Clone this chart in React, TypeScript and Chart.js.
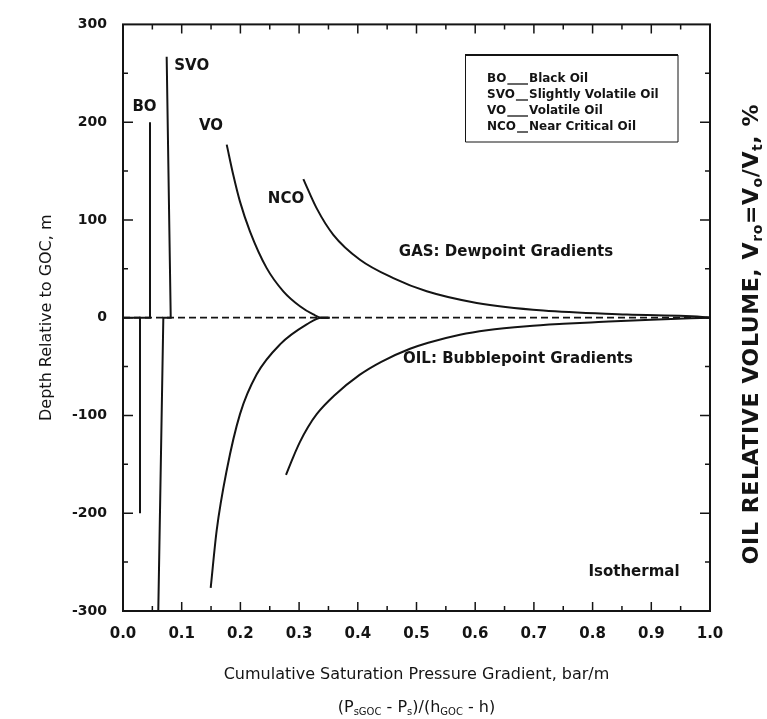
import { useEffect, useRef } from "react";
import { Chart, registerables } from "chart.js";

Chart.register(...registerables);

const INK = "#141414";
const FONT = "'DejaVu Sans', 'Liberation Sans', sans-serif";

// Axis ranges and tick labels
const xMin = 0;
const xMax = 1;
const xStep = 0.1;
const yMin = -300;
const yMax = 300;
const yStep = 100;

// Black oil: GOC step and the two vertical gradients
const boX = [0.046, 0.046, 0.029, 0.029];
const boY = [200, 0, 0, -200];
const boLeadX = [0, 0.029];
const boLeadY = [0, 0];

// Slightly volatile oil
const svoX = [0.0744, 0.0813, 0.0687, 0.0601];
const svoY = [267, 0, 0, -300];

// Volatile oil: dewpoint (gas) and bubblepoint (oil) branches
const voGasX = [0.1767, 0.1879, 0.1993, 0.2164, 0.2448, 0.2731, 0.3015, 0.3242, 0.338, 0.352];
const voGasY = [177, 145.9, 118.7, 88.1, 50.7, 27, 11.7, 3.3, 0, 0];
const voOilX = [0.1494, 0.1596, 0.1767, 0.1993, 0.2278, 0.2675, 0.313, 0.338, 0.352];
const voOilY = [-276.3, -217.5, -156, -98.6, -57.9, -27.3, -6.9, 0, 0];

// Near critical oil
const ncoGasX = [0.3072, 0.33, 0.3583, 0.4037, 0.4605, 0.5174, 0.6026, 0.716, 0.8581, 0.9944, 1.0];
const ncoGasY = [141.8, 111.8, 84.8, 59.3, 40.5, 27, 15.1, 7.3, 3.3, 0.5, 0];
const ncoOilX = [0.2777, 0.29, 0.3015, 0.315, 0.33, 0.36, 0.403, 0.44, 0.489, 0.52, 0.574, 0.62, 0.688, 0.75, 0.81, 0.9, 1.0];
const ncoOilY = [-160.7, -142.5, -127, -112, -98.6, -79.6, -58.5, -45.1, -31.8, -25.6, -17.4, -12.8, -8.7, -6.3, -4.5, -2, 0];

// GOC reference line
const gocX = [0, 1];
const gocY = [0, 0];

// Curve and region annotations (text, x value, y value)
const noteText = ["BO", "SVO", "VO", "NCO", "GAS: Dewpoint Gradients", "OIL: Bubblepoint Gradients", "Isothermal"];
const noteX = [0.0366, 0.117, 0.15, 0.2777, 0.6525, 0.6729, 0.8705];
const noteY = [215.4, 257.2, 195.6, 121.7, 66.7, -42.3, -259.8];

// Legend entries
const legendAbbr = ["BO", "SVO", "VO", "NCO"];
const legendName = ["Black Oil", "Slightly Volatile Oil", "Volatile Oil", "Near Critical Oil"];

const pts = (xs: number[], ys: number[]) => xs.map((x, i) => ({ x, y: ys[i] }));

type Run = { t: string; sub?: boolean };

function drawRich(ctx: CanvasRenderingContext2D, runs: Run[], cx: number, cy: number, size: number, weight: string) {
  const main = `${weight} ${size}px ${FONT}`;
  const small = `${weight} ${Math.round(size * 0.62)}px ${FONT}`;
  let w = 0;
  for (const r of runs) {
    ctx.font = r.sub ? small : main;
    w += ctx.measureText(r.t).width;
  }
  let x = cx - w / 2;
  ctx.textAlign = "left";
  ctx.textBaseline = "middle";
  for (const r of runs) {
    ctx.font = r.sub ? small : main;
    ctx.fillText(r.t, x, r.sub ? cy + size * 0.3 : cy);
    x += ctx.measureText(r.t).width;
  }
}

const decor = {
  id: "decor",
  afterDatasetsDraw(chart: any) {
    const { ctx, chartArea: a, scales } = chart;
    const xs = scales.x;
    const ys = scales.y;
    ctx.save();
    ctx.fillStyle = INK;
    ctx.strokeStyle = INK;

    // annotations
    ctx.font = `bold 15px ${FONT}`;
    ctx.textAlign = "center";
    ctx.textBaseline = "middle";
    noteText.forEach((t, i) => {
      ctx.fillText(t, xs.getPixelForValue(noteX[i]), ys.getPixelForValue(noteY[i]));
    });

    // frame
    ctx.lineWidth = 2;
    ctx.strokeRect(a.left, a.top, a.right - a.left, a.bottom - a.top);

    // inward ticks
    ctx.lineWidth = 1.5;
    ctx.beginPath();
    for (let k = 1; k < 20; k++) {
      const v = k * 0.05;
      const px = xs.getPixelForValue(v);
      const len = k % 2 === 0 ? 9 : 5;
      ctx.moveTo(px, a.bottom);
      ctx.lineTo(px, a.bottom - len);
      ctx.moveTo(px, a.top);
      ctx.lineTo(px, a.top + len);
    }
    for (let v = yMin + 50; v < yMax; v += 50) {
      const py = ys.getPixelForValue(v);
      const len = v % 100 === 0 ? 10 : 5;
      ctx.moveTo(a.left, py);
      ctx.lineTo(a.left + len, py);
      ctx.moveTo(a.right, py);
      ctx.lineTo(a.right - len, py);
    }
    ctx.stroke();

    // legend box
    const bx0 = 465, bx1 = 678, by0 = 55, by1 = 142;
    ctx.lineWidth = 2;
    ctx.beginPath();
    ctx.moveTo(bx0, by0);
    ctx.lineTo(bx1, by0);
    ctx.stroke();
    ctx.lineWidth = 1;
    ctx.beginPath();
    ctx.moveTo(bx0 + 0.5, by0);
    ctx.lineTo(bx0 + 0.5, by1);
    ctx.lineTo(bx1, by1);
    ctx.lineTo(bx1, by0);
    ctx.stroke();
    ctx.font = `bold 12px ${FONT}`;
    ctx.textAlign = "left";
    ctx.textBaseline = "middle";
    legendAbbr.forEach((ab, i) => {
      const y = 79 + i * 16;
      ctx.fillText(ab, 487, y);
      const w = ctx.measureText(ab).width;
      ctx.lineWidth = 1.3;
      ctx.beginPath();
      ctx.moveTo(487 + w + 1, y + 5);
      ctx.lineTo(528, y + 5);
      ctx.stroke();
      ctx.fillText(legendName[i], 529, y);
    });

    // second x-axis caption line
    drawRich(
      ctx,
      [{ t: "(P" }, { t: "sGOC", sub: true }, { t: " - P" }, { t: "s", sub: true }, { t: ")/(h" }, { t: "GOC", sub: true }, { t: " - h)" }],
      (a.left + a.right) / 2,
      708,
      16,
      "normal"
    );

    // right-hand axis caption
    ctx.save();
    ctx.translate(752, 334);
    ctx.rotate(-Math.PI / 2);
    (ctx as any).letterSpacing = "0.6px";
    drawRich(
      ctx,
      [
        { t: "OIL RELATIVE VOLUME, V" },
        { t: "ro", sub: true },
        { t: "=V" },
        { t: "o", sub: true },
        { t: "/V" },
        { t: "t", sub: true },
        { t: ", %" },
      ],
      0,
      0,
      22,
      "bold"
    );
    ctx.restore();

    ctx.restore();
  },
};

export default function App() {
  const ref = useRef<HTMLCanvasElement>(null);

  useEffect(() => {
    if (!ref.current) return;
    const solid = { borderColor: INK, borderWidth: 2, pointRadius: 0, showLine: true, tension: 0 };
    const curve = { ...solid, cubicInterpolationMode: "monotone" as const };
    const chart = new Chart(ref.current, {
      type: "scatter",
      data: {
        datasets: [
          { ...solid, label: "GOC", data: pts(gocX, gocY), borderWidth: 1.8, borderDash: [7, 4] },
          { ...solid, label: "BO", data: pts(boX, boY) },
          { ...solid, label: "BO lead", data: pts(boLeadX, boLeadY) },
          { ...solid, label: "SVO", data: pts(svoX, svoY) },
          { ...curve, label: "VO gas", data: pts(voGasX, voGasY) },
          { ...curve, label: "VO oil", data: pts(voOilX, voOilY) },
          { ...curve, label: "NCO gas", data: pts(ncoGasX, ncoGasY) },
          { ...curve, label: "NCO oil", data: pts(ncoOilX, ncoOilY) },
        ],
      },
      options: {
        responsive: false,
        animation: false,
        devicePixelRatio: 1,
        layout: { padding: { top: 22, right: 57, left: 0, bottom: 0 } },
        plugins: { legend: { display: false }, tooltip: { enabled: false } },
        scales: {
          x: {
            type: "linear",
            min: xMin,
            max: xMax,
            afterFit: (s: any) => {
              s.height = 108;
            },
            grid: { display: false, drawTicks: false },
            border: { display: false },
            ticks: {
              stepSize: xStep,
              autoSkip: false,
              maxRotation: 0,
              padding: 14,
              color: INK,
              font: { family: FONT, weight: "bold", size: 15 },
              callback: (v: any) => Number(v).toFixed(1),
            },
            title: {
              display: true,
              text: "Cumulative Saturation Pressure Gradient, bar/m",
              color: INK,
              font: { family: FONT, size: 16 },
              padding: { top: 0, bottom: 35 },
            },
          },
          y: {
            type: "linear",
            min: yMin,
            max: yMax,
            afterFit: (s: any) => {
              s.width = 123;
            },
            grid: { display: false, drawTicks: false },
            border: { display: false },
            ticks: {
              stepSize: yStep,
              autoSkip: false,
              padding: 16,
              color: INK,
              font: { family: FONT, weight: "bold", size: 14 },
            },
            title: {
              display: true,
              text: "Depth Relative to GOC, m",
              color: INK,
              font: { family: FONT, size: 16 },
              padding: { top: 37, bottom: 0 },
            },
          },
        },
      },
      plugins: [decor],
    });
    return () => chart.destroy();
  }, []);

  return (
    <div style={{ position: "absolute", left: 0, top: 0, width: 767, height: 719, background: "#fff" }}>
      <canvas ref={ref} width={767} height={719} style={{ width: 767, height: 719 }} />
    </div>
  );
}
